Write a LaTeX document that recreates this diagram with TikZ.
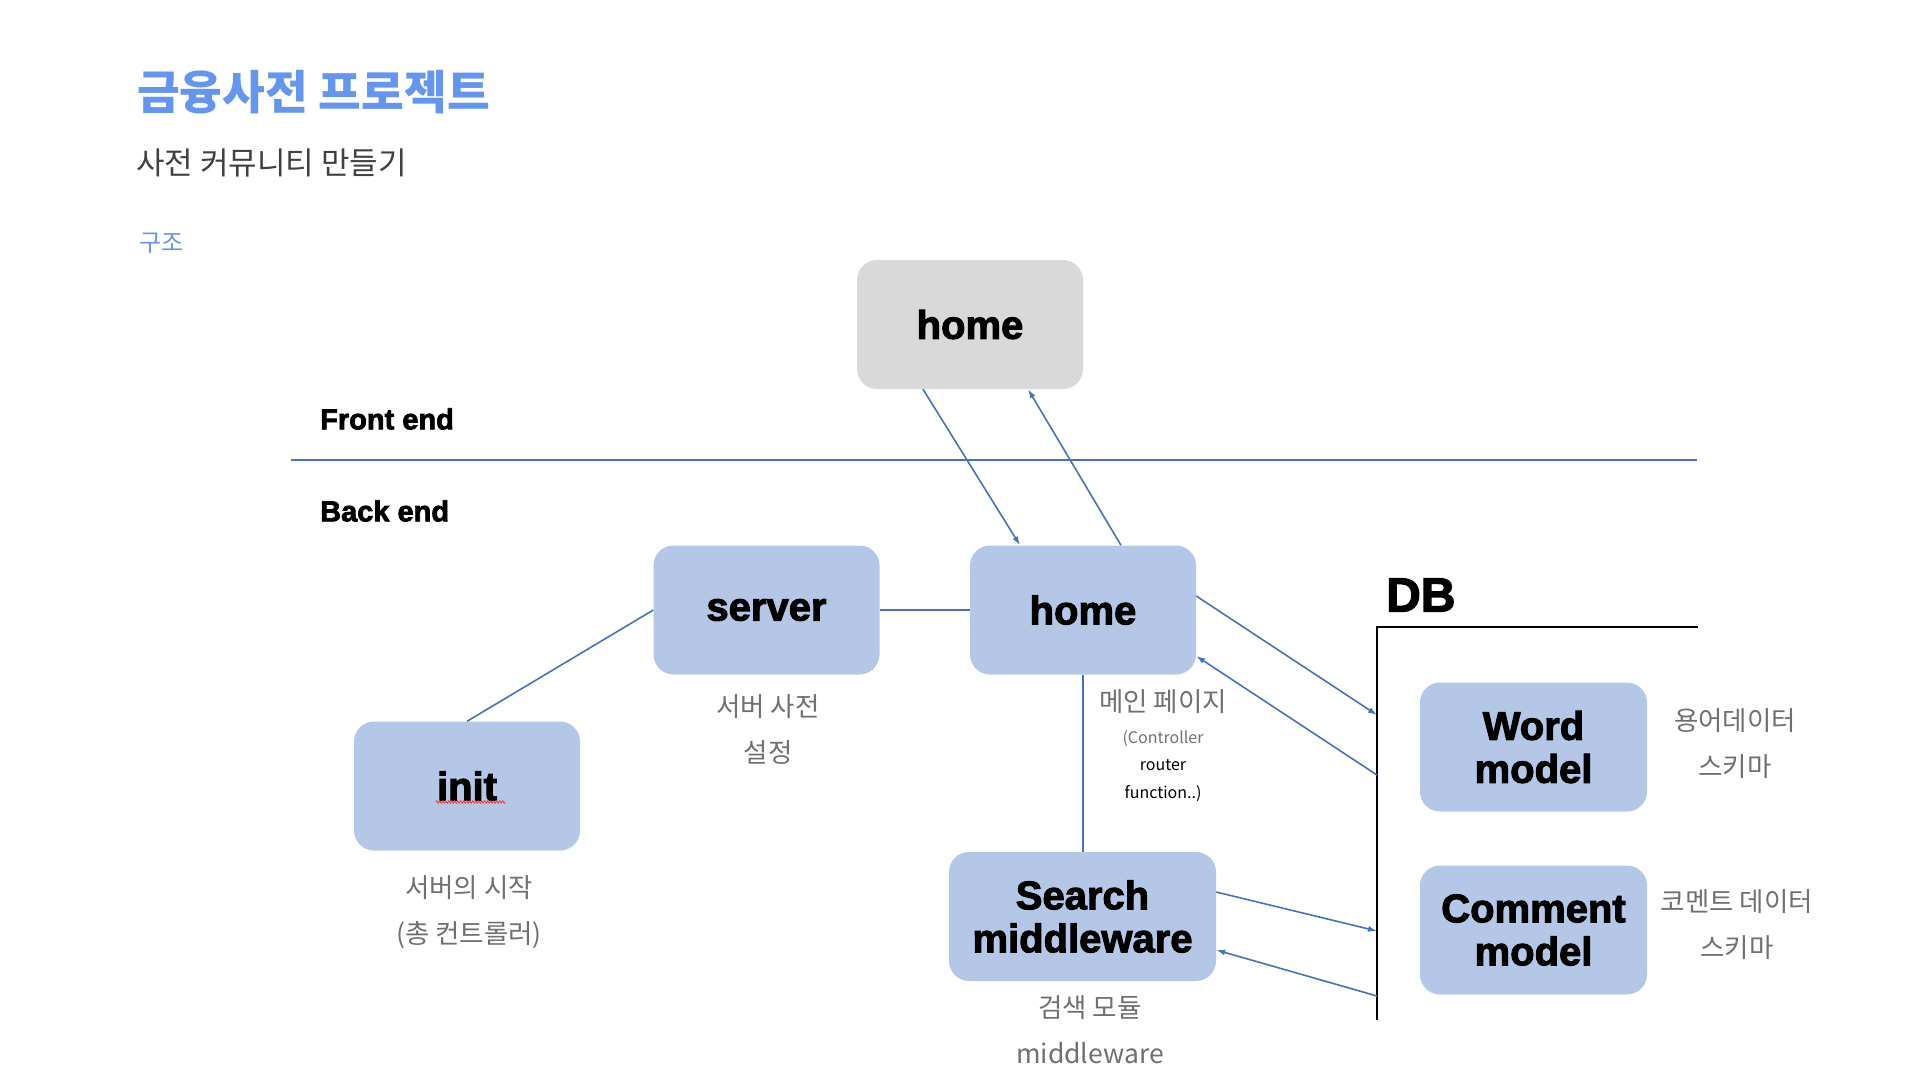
\documentclass[tikz,border=0pt]{standalone}
\usepackage{fontspec}
\setmainfont{Liberation Sans}
\newfontfamily\kr{Noto Sans CJK KR}
\newfontfamily\heavy{Liberation Sans}[UprightFont={*/B}, FakeBold=2.5]
\usetikzlibrary{calc,arrows.meta,decorations.pathmorphing}
\definecolor{boxblue}{HTML}{B4C7E7}
\definecolor{boxgray}{HTML}{D9D9D9}
\definecolor{lineblue}{HTML}{4472C4}
\definecolor{titleblue}{HTML}{6495F0}
\definecolor{labelgray}{HTML}{707070}
\definecolor{subgray}{HTML}{404040}
\begin{document}
\begin{tikzpicture}[x=1pt,y=-1pt,
  box/.style={rounded corners=20pt, fill=boxblue, minimum width=226pt, minimum height=129pt,
    inner sep=0pt, font=\heavy\fontsize{40}{43}\selectfont, align=center},
  conn/.style={draw=lineblue, line width=1.6pt},
  arr/.style={conn, -{Latex[length=9pt,width=6pt]}},
  lbl/.style={font=\kr\fontsize{26.5}{46}\selectfont, text=labelgray, align=center, inner sep=0pt},
  head/.style={font=\heavy\fontsize{29}{29}\selectfont, anchor=west, inner sep=0pt}]
\useasboundingbox (0,0) rectangle (1920,1080);

% titles
\node[anchor=west, inner sep=0pt, font=\kr\bfseries\fontsize{46.5}{46.5}\selectfont, text=titleblue] (title) at (137,92) {금융사전 프로젝트};
\node[anchor=west, inner sep=0pt, font=\kr\fontsize{31}{31}\selectfont, text=subgray] (subtitle) at (136,163) {사전 커뮤니티 만들기};
\node[anchor=west, inner sep=0pt, font=\kr\fontsize{24}{24}\selectfont, text=titleblue] (section) at (139,243) {구조};

% front / back
\node[head] (front) at (320,419) {Front end};
\node[head] (back) at (320,511) {Back end};
\coordinate (divL) at (291,460);
\coordinate (divR) at (1697,460);
\draw[conn] (divL) -- (divR);

% boxes
\node[box, fill=boxgray] (tophome) at (970,324.5) {home};
\node[box] (server) at (766.5,610) {server};
\node[box] (home) at (1083,610) {home};
\node[box] (init) at (467,786) {init};
\node[box, minimum width=267pt] (search) at (1082.5,916.5) {Search\\middleware};
\node[box, minimum width=227pt] (word) at (1533.5,747) {Word\\model};
\node[box, minimum width=227pt] (comment) at (1533.5,930) {Comment\\model};

% spell-check underline
\draw[red!80, line width=0.8pt, decorate, decoration={zigzag, amplitude=1.2pt, segment length=3pt}]
  ($(init.center)+(-31,16)$) -- ($(init.center)+(38,16)$);

% DB
\node[anchor=west, inner sep=0pt, font=\heavy\fontsize{48}{48}\selectfont] (db) at (1386,595) {DB};
\coordinate (dbR) at (1698,627);
\coordinate (dbC) at (1377,627);
\coordinate (dbB) at (1377,1020);
\draw[black, line width=1.8pt] (dbR) -- (dbC) -- (dbB);
\coordinate (dbA1) at (1377,715);
\coordinate (dbA2) at (1377,775);
\coordinate (dbA3) at (1377,931);
\coordinate (dbA4) at (1377,996);

% labels
\node[lbl] (lserver) at (768,730) {서버 사전\\설정};
\node[lbl] (linit) at (469,912) {서버의 시작\\(총 컨트롤러)};
\node[lbl] (lhome) at (1163,702) {메인 페이지};
\node[lbl, font=\kr\fontsize{16}{27.5}\selectfont, text=black] (lhome2) at (1163,766) {{\color{labelgray}(Controller}\\router\\function..)};
\node[lbl] (lsearch) at (1090,1030) {검색 모듈\\middleware};
\node[lbl] (lword) at (1735,744) {용어데이터\\스키마};
\node[lbl] (lcomment) at (1737,925) {코멘트 데이터\\스키마};

% connectors
\draw[arr] ($(tophome.south)+(-47,0)$) -- ($(home.north)+(-63,0)$);
\draw[arr] ($(home.north)+(38,0)$) -- ($(tophome.south)+(58,0)$);
\draw[conn] (init.north) -- (server.west);
\draw[conn] (server.east) -- (home.west);
\draw[conn] (home.south) -- (home.south |- search.north);
\draw[arr] ($(home.east)+(0,-14)$) -- (dbA1);
\draw[arr] (dbA2) -- ($(home.east)+(0,46)$);
\draw[arr] ($(search.east)+(0,-24.5)$) -- (dbA3);
\draw[arr] (dbA4) -- ($(search.east)+(0,33.5)$);
\end{tikzpicture}
\end{document}
